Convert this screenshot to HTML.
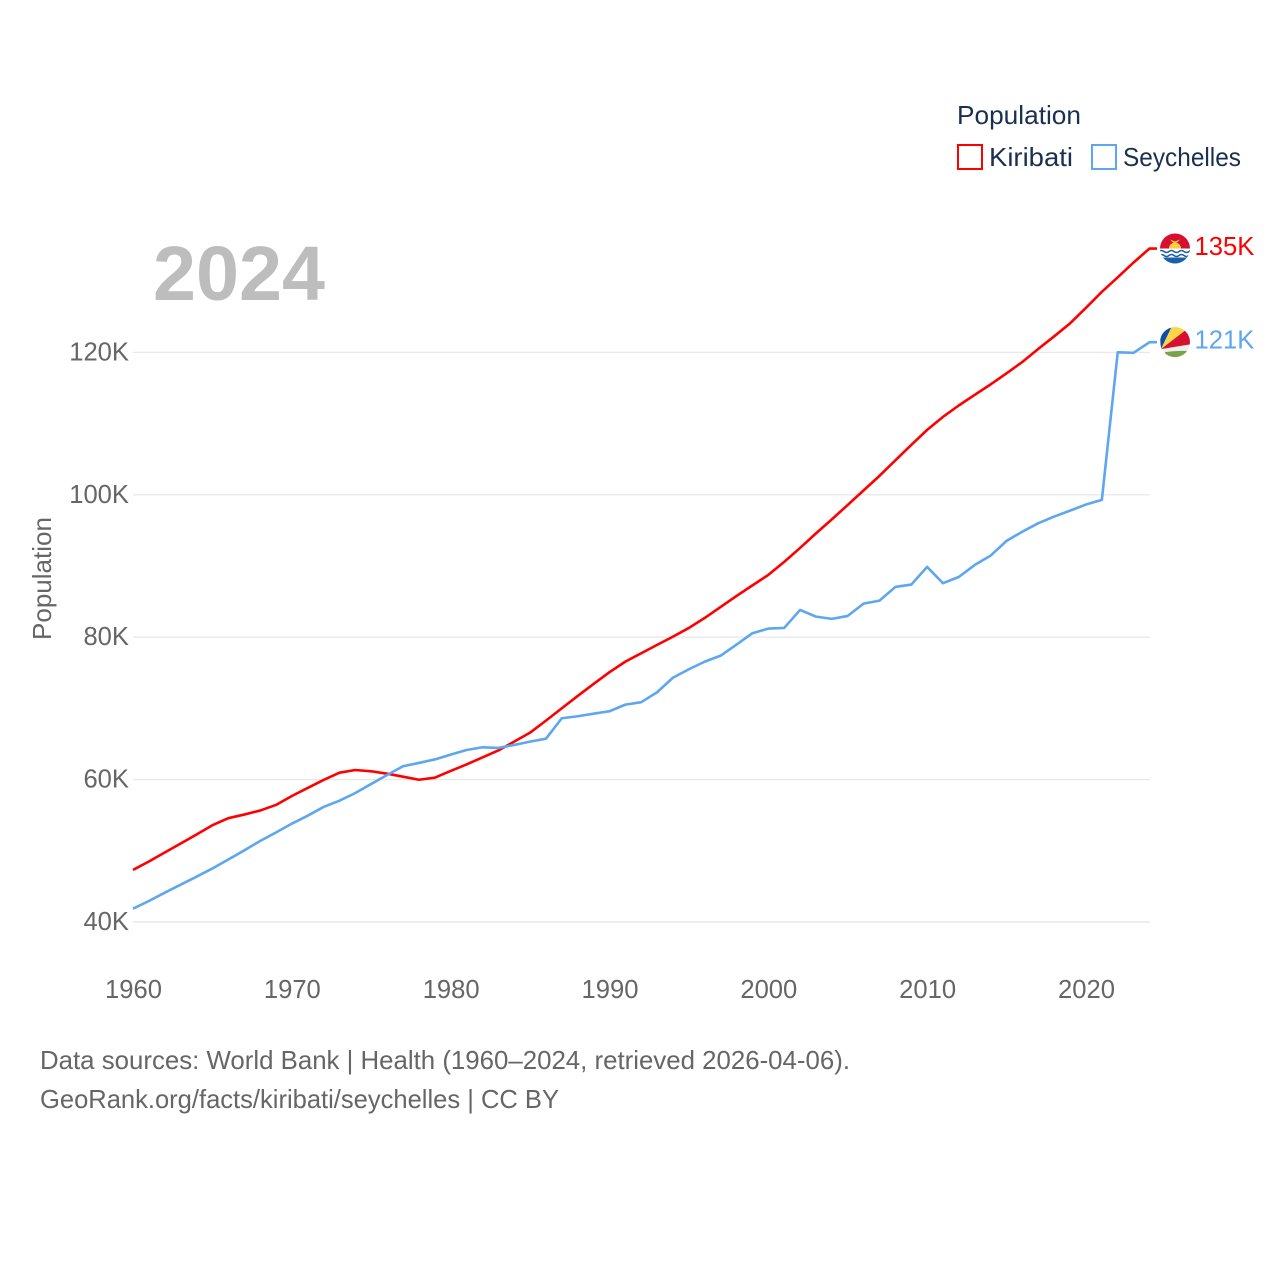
<!DOCTYPE html>
<html>
<head>
<meta charset="utf-8">
<title>Population: Kiribati and Seychelles</title>
<style>
html,body{margin:0;padding:0;background:#fff;}
svg{display:block;}
text{font-family:"Liberation Sans",sans-serif;}
</style>
</head>
<body>
<svg id="chart" xmlns="http://www.w3.org/2000/svg" width="1280" height="1280" viewBox="0 0 1280 1280">
  <defs>
    <clipPath id="flag-clip"><circle cx="0" cy="0" r="15"/></clipPath>
  </defs>
  <rect width="1280" height="1280" fill="#ffffff"/>
  <g id="grid"></g>
  <text x="153" y="300" font-size="77" font-weight="700" fill="#bdbdbd" textLength="172" lengthAdjust="spacingAndGlyphs">2024</text>
  <g id="y-ticks"></g>
  <g id="x-ticks"></g>
  <text transform="translate(51,640) rotate(-90)" font-size="26" fill="#666666" textLength="123" lengthAdjust="spacingAndGlyphs">Population</text>
  <g id="series"></g>

  <g id="flag-kiribati">
    <g clip-path="url(#flag-clip)">
      <rect x="-16" y="-16" width="32" height="17" fill="#d8102f"/>
      <path d="M-6 0 A6 6 0 0 1 6 0 Z" fill="#f8d044"/>
      <path d="M-5 -9 L0 -7 L5 -9 L2 -6 L-2 -6 Z" fill="#f8d044"/>
      <rect x="-16" y="0" width="32" height="10" fill="#ffffff"/>
      <rect x="-16" y="9" width="32" height="8" fill="#1a5fa8"/>
      <path d="M-16 3 q2.500 -2 5 0 q2.500 2 5 0 q2.500 -2 5 0 q2.500 2 5 0 q2.500 -2 5 0 q2.500 2 5 0 q2.500 -2 3 0" fill="none" stroke="#1a5fa8" stroke-width="1.500"/>
      <path d="M-16 7 q2.500 -2 5 0 q2.500 2 5 0 q2.500 -2 5 0 q2.500 2 5 0 q2.500 -2 5 0 q2.500 2 5 0 q2.500 -2 3 0" fill="none" stroke="#1a5fa8" stroke-width="1.500"/>
    </g>
  </g>
  <g id="flag-seychelles">
    <g clip-path="url(#flag-clip)">
      <rect x="-16" y="-16" width="32" height="32" fill="#eeeeee"/>
      <path d="M-14 7 L-16 -16 L-3 -16 Z" fill="#0d4fa8"/>
      <path d="M-14 7 L-3 -16 L9 -16 L12 -12 Z" fill="#fbd54a"/>
      <path d="M-14 7 L12 -13 L16 -10 L16 2 Z" fill="#d8102f"/>
      <path d="M-10 10 Q2 8 16 9 L16 16 L-10 16 Z" fill="#7ba24a"/>
    </g>
  </g>
  <g id="end-labels"></g>

  <g>
    <text x="957" y="124" font-size="26" fill="#1a3050" textLength="124" lengthAdjust="spacingAndGlyphs">Population</text>
    <g>
      <rect x="958" y="145" width="24" height="24" fill="#ffffff" stroke="#ff0000" stroke-width="2"/>
      <text x="989" y="166" font-size="26" fill="#1a3050" textLength="84" lengthAdjust="spacingAndGlyphs">Kiribati</text>
    </g>
    <g>
      <rect x="1092" y="145" width="24" height="24" fill="#ffffff" stroke="#5ea6ee" stroke-width="2"/>
      <text x="1123" y="166" font-size="26" fill="#1a3050" textLength="118" lengthAdjust="spacingAndGlyphs">Seychelles</text>
    </g>
  </g>

  <text x="40" y="1069" font-size="26" fill="#666666" textLength="810" lengthAdjust="spacingAndGlyphs">Data sources: World Bank | Health (1960–2024, retrieved 2026-04-06).</text>
  <text x="40" y="1108" font-size="26" fill="#666666" textLength="519" lengthAdjust="spacingAndGlyphs">GeoRank.org/facts/kiribati/seychelles | CC BY</text>
</svg>

<script>
const firstYear = 1960;
const lastYear = 2024;
const yTicks = [40, 60, 80, 100, 120];
const xTicks = [1960, 1970, 1980, 1990, 2000, 2010, 2020];
const kiribati = [47.31,48.50,49.76,51.03,52.29,53.59,54.58,55.09,55.65,56.44,
  57.70,58.83,59.95,60.97,61.35,61.17,60.83,60.41,59.98,60.27,
  61.21,62.13,63.11,64.09,65.33,66.59,68.28,70.02,71.75,73.44,
  75.08,76.57,77.75,78.92,80.08,81.30,82.71,84.25,85.80,87.28,
  88.75,90.58,92.54,94.58,96.55,98.58,100.62,102.66,104.84,107.01,
  109.12,110.95,112.56,114.04,115.51,117.06,118.67,120.50,122.26,124.08,
  126.26,128.51,130.55,132.63,134.59];
const seychelles = [41.87,42.95,44.12,45.24,46.36,47.52,48.78,50.05,51.38,52.57,
  53.81,54.93,56.16,57.04,58.12,59.39,60.65,61.87,62.34,62.83,
  63.50,64.16,64.54,64.45,64.87,65.33,65.75,68.62,68.90,69.26,
  69.60,70.53,70.87,72.27,74.32,75.50,76.57,77.41,78.96,80.56,
  81.21,81.30,83.83,82.89,82.57,82.99,84.72,85.14,87.06,87.39,
  89.87,87.58,88.47,90.15,91.46,93.53,94.83,96.01,96.94,97.78,
  98.63,99.29,120.01,119.94,121.44];

const SVG_NS = 'http://www.w3.org/2000/svg';
const xScale = function (year) { return 133 + (year - firstYear) * (1149.5 - 133) / (lastYear - firstYear); };
const yScale = function (v) { return 922 - (v - 40) * (922 - 352.4) / 80; };

function make(tag, parent, props) {
  const el = document.createElementNS(SVG_NS, tag);
  Object.keys(props).forEach(function (k) { el.setAttribute(k, props[k]); });
  parent.appendChild(el);
  return el;
}

const grid = document.getElementById('grid');
const yTickGroup = document.getElementById('y-ticks');
yTicks.forEach(function (t) {
  const line = make('line', grid, { x1: 133, x2: 1150, y1: yScale(t), y2: yScale(t), stroke: '#e9e9e9', 'stroke-width': 1.4 });
  
  
  const label = make('text', yTickGroup, { x: 129, y: yScale(t) + 8, 'text-anchor': 'end', 'font-size': 25.6, fill: '#666666' });
  label.textContent = t + 'K';
  
  
});

const xTickGroup = document.getElementById('x-ticks');
xTicks.forEach(function (t) {
  const label = make('text', xTickGroup, { x: xScale(t) + 0.5, y: 998, 'text-anchor': 'middle', 'font-size': 25.6, fill: '#666666' });
  label.textContent = String(t);
  
  
});

function linePoints(values) {
  const pts = values.map(function (v, i) { return xScale(firstYear + i).toFixed(2) + ',' + yScale(v).toFixed(2); });
  const last = values[values.length - 1];
  pts.push('1157,' + yScale(last).toFixed(2));
  return pts.join(' ');
}

const seriesGroup = document.getElementById('series');
const kiribatiLine = make('polyline', seriesGroup, { points: linePoints(kiribati), fill: 'none', stroke: '#ff0000', 'stroke-width': 2.6, 'stroke-linejoin': 'round' });


const seychellesLine = make('polyline', seriesGroup, { points: linePoints(seychelles), fill: 'none', stroke: '#5ea6ee', 'stroke-width': 2.6, 'stroke-linejoin': 'round' });



const kEnd = kiribati[kiribati.length - 1];
const sEnd = seychelles[seychelles.length - 1];
document.getElementById('flag-kiribati').setAttribute('transform', 'translate(1175,' + yScale(kEnd).toFixed(2) + ')');
document.getElementById('flag-seychelles').setAttribute('transform', 'translate(1175,' + yScale(sEnd).toFixed(2) + ')');

const endGroup = document.getElementById('end-labels');
const kLabel = make('text', endGroup, { x: 1194.5, y: yScale(kEnd) + 6.500, 'font-size': 25.6, fill: '#ff0000' });
kLabel.textContent = Math.round(kEnd) + 'K';


const sLabel = make('text', endGroup, { x: 1194.5, y: yScale(sEnd) + 6.500, 'font-size': 25.6, fill: '#5ea6ee' });
sLabel.textContent = Math.round(sEnd) + 'K';


</script>
</body>
</html>
